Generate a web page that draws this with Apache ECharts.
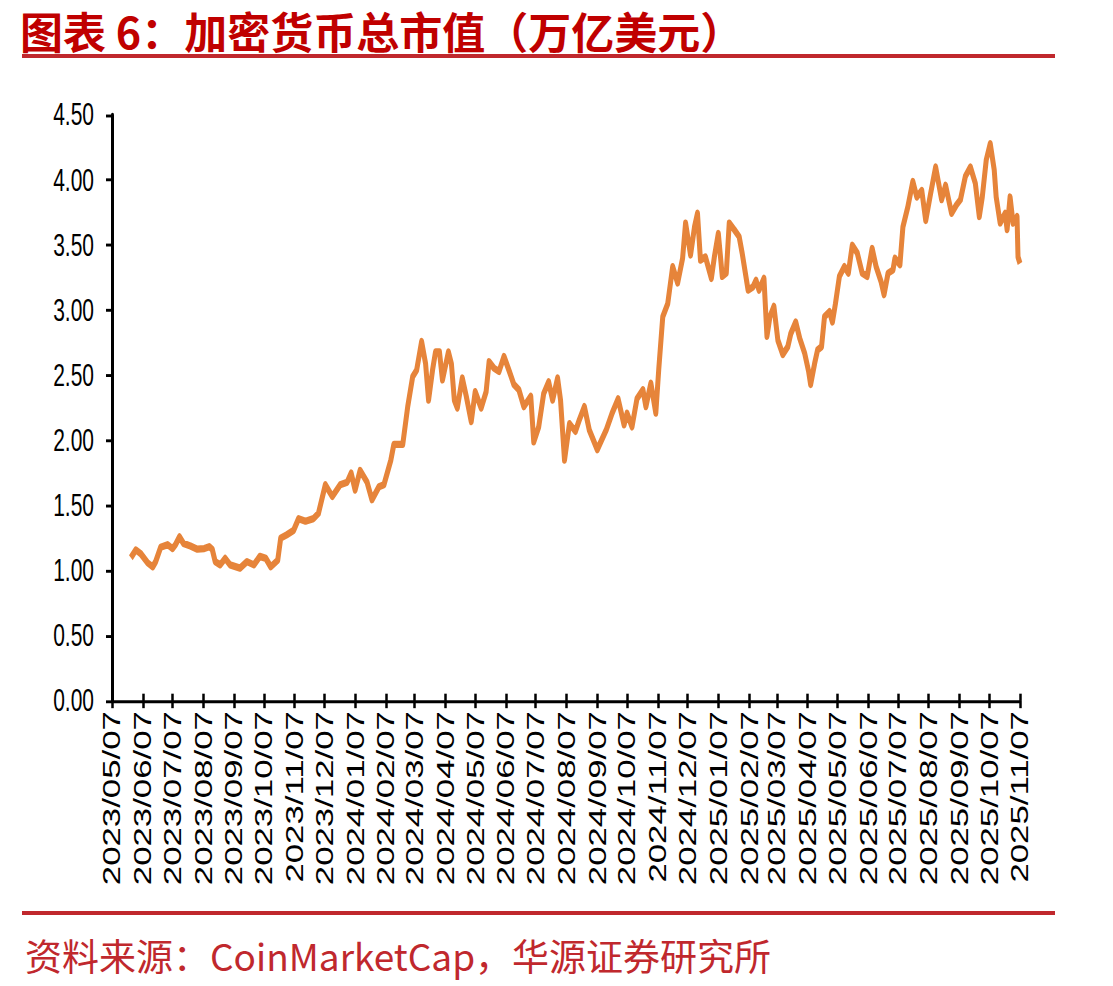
<!DOCTYPE html>
<html>
<head>
<meta charset="utf-8">
<script src="https://cdn.jsdelivr.net/npm/echarts@6/dist/echarts.min.js"></script>
<style>
html,body{margin:0;padding:0;background:#fff;overflow:hidden;}
#frame{position:absolute;left:0;top:0;width:1113px;height:986px;}
#chart{position:absolute;left:0;top:0;width:1113px;height:680px;transform-origin:0 0;transform:scaleY(1.45);}
</style>
</head>
<body>
<div id="frame"></div>
<div id="chart"></div>
<script>
// ---- data ----
const titleText = '图表 6：加密货币总市值（万亿美元）';
const sourceText = '资料来源：CoinMarketCap，华源证券研究所';

const xTickLabels = ['2023/05/07','2023/06/07','2023/07/07','2023/08/07','2023/09/07','2023/10/07','2023/11/07','2023/12/07',
  '2024/01/07','2024/02/07','2024/03/07','2024/04/07','2024/05/07','2024/06/07','2024/07/07','2024/08/07','2024/09/07',
  '2024/10/07','2024/11/07','2024/12/07','2025/01/07','2025/02/07','2025/03/07','2025/04/07','2025/05/07','2025/06/07',
  '2025/07/07','2025/08/07','2025/09/07','2025/10/07','2025/11/07'];

const dates = ['2023-05-26','2023-05-31','2023-06-05','2023-06-12','2023-06-17','2023-06-20','2023-06-25','2023-07-02',
  '2023-07-07','2023-07-10','2023-07-14','2023-07-18','2023-07-25','2023-08-01','2023-08-08','2023-08-13','2023-08-16',
  '2023-08-19','2023-08-24','2023-08-29','2023-09-03','2023-09-13','2023-09-20','2023-09-27','2023-10-03','2023-10-09',
  '2023-10-14','2023-10-21','2023-10-24','2023-10-30','2023-11-06','2023-11-11','2023-11-18','2023-11-26','2023-12-01',
  '2023-12-08','2023-12-15','2023-12-23','2023-12-30','2024-01-03','2024-01-07','2024-01-12','2024-01-19','2024-01-24',
  '2024-01-31','2024-02-05','2024-02-12','2024-02-15','2024-02-24','2024-02-29','2024-03-05','2024-03-09','2024-03-14',
  '2024-03-18','2024-03-21','2024-03-25','2024-03-28','2024-04-01','2024-04-04','2024-04-10','2024-04-13','2024-04-16',
  '2024-04-19','2024-04-24','2024-04-28','2024-05-03','2024-05-07','2024-05-13','2024-05-18','2024-05-21','2024-05-26',
  '2024-05-31','2024-06-05','2024-06-10','2024-06-15','2024-06-20','2024-06-25','2024-07-02','2024-07-05','2024-07-10',
  '2024-07-15','2024-07-20','2024-07-24','2024-07-29','2024-08-01','2024-08-05','2024-08-10','2024-08-16','2024-08-20',
  '2024-08-25','2024-08-30','2024-09-07','2024-09-16','2024-09-22','2024-09-28','2024-10-04','2024-10-07','2024-10-12',
  '2024-10-17','2024-10-23','2024-10-26','2024-10-31','2024-11-05','2024-11-08','2024-11-12','2024-11-17','2024-11-22',
  '2024-11-27','2024-12-02','2024-12-05','2024-12-10','2024-12-14','2024-12-17','2024-12-20','2024-12-25','2024-12-31',
  '2025-01-03','2025-01-07','2025-01-11','2025-01-15','2025-01-18','2025-01-23','2025-01-28','2025-01-31','2025-02-06',
  '2025-02-11','2025-02-14','2025-02-17','2025-02-22','2025-02-25','2025-02-28','2025-03-04','2025-03-08','2025-03-13',
  '2025-03-18','2025-03-21','2025-03-26','2025-03-30','2025-04-04','2025-04-08','2025-04-10','2025-04-14','2025-04-17',
  '2025-04-21','2025-04-24','2025-04-29','2025-05-02','2025-05-05','2025-05-09','2025-05-14','2025-05-18','2025-05-22',
  '2025-05-27','2025-06-01','2025-06-06','2025-06-11','2025-06-15','2025-06-20','2025-06-23','2025-06-27','2025-07-02',
  '2025-07-04','2025-07-09','2025-07-12','2025-07-17','2025-07-22','2025-07-26','2025-07-31','2025-08-04','2025-08-09',
  '2025-08-14','2025-08-20','2025-08-24','2025-08-30','2025-09-04','2025-09-08','2025-09-13','2025-09-18','2025-09-23',
  '2025-09-27','2025-09-30','2025-10-04','2025-10-08','2025-10-12','2025-10-14','2025-10-18','2025-10-23','2025-10-25',
  '2025-10-28','2025-10-31','2025-11-04','2025-11-05','2025-11-07'];

const values = [1.10,1.16,1.13,1.06,1.03,1.07,1.18,1.20,
  1.17,1.20,1.26,1.21,1.19,1.165,1.17,1.185,1.165,
  1.07,1.045,1.095,1.045,1.02,1.07,1.045,1.11,1.095,
  1.03,1.08,1.25,1.275,1.31,1.40,1.38,1.40,1.44,
  1.66,1.57,1.66,1.68,1.75,1.62,1.77,1.68,1.545,
  1.645,1.66,1.85,1.97,1.97,2.26,2.49,2.54,2.76,
  2.59,2.31,2.54,2.68,2.68,2.465,2.68,2.59,2.31,
  2.25,2.48,2.34,2.145,2.375,2.25,2.375,2.605,2.555,
  2.53,2.645,2.54,2.43,2.39,2.26,2.34,1.99,2.105,
  2.36,2.45,2.31,2.48,2.31,1.85,2.13,2.07,2.16,
  2.26,2.08,1.93,2.08,2.21,2.32,2.12,2.21,2.105,
  2.32,2.39,2.26,2.44,2.21,2.55,2.95,3.05,3.335,
  3.21,3.40,3.67,3.425,3.64,3.745,3.385,3.41,3.245,
  3.41,3.59,3.26,3.285,3.67,3.62,3.565,3.44,3.155,
  3.18,3.23,3.155,3.245,2.80,2.95,3.03,2.77,2.66,
  2.72,2.82,2.91,2.785,2.67,2.53,2.43,2.59,2.695,
  2.72,2.95,2.99,2.91,3.05,3.26,3.335,3.285,3.50,
  3.44,3.285,3.26,3.475,3.335,3.22,3.12,3.285,3.31,
  3.40,3.35,3.64,3.795,3.99,3.87,3.92,3.69,3.90,
  4.10,3.85,3.96,3.745,3.81,3.85,4.03,4.10,3.975,
  3.72,3.87,4.155,4.28,4.08,3.87,3.67,3.745,3.62,
  3.87,3.67,3.72,3.41,3.36];

// ---- helpers ----
const S = 1.45; // vertical stretch of the reference plot
function toTs(s){ const p = s.split(/[-\/]/).map(Number); return new Date(p[0], p[1]-1, p[2]).getTime(); }
function pad(n){ return (n<10?'0':'')+n; }
function fmt(ts){ const d = new Date(ts); return d.getFullYear()+'/'+pad(d.getMonth()+1)+'/'+pad(d.getDate()); }

const tickTs = xTickLabels.map(toTs);
const seriesData = dates.map((d,i)=>[toTs(d), values[i]]);
const xMin = tickTs[0], xMax = tickTs[tickTs.length-1];

// frame: title, red rules, source (not stretched)
const frame = echarts.init(document.getElementById('frame'), null, {renderer:'svg', width:1113, height:986});
frame.setOption({
  animation:false,
  backgroundColor:'#fff',
  title:{
    text:titleText, left:15, top:3,
    textStyle:{color:'#C00000', fontSize:43, fontWeight:'bold', fontFamily:'Noto Sans CJK SC, sans-serif', lineHeight:44}
  },
  graphic:[
    {type:'rect', shape:{x:22, y:54, width:1033, height:4}, style:{fill:'#C0282D'}},
    {type:'rect', shape:{x:22, y:911, width:1033, height:4}, style:{fill:'#C0282D'}},
    {type:'text', x:25, y:955,
     style:{text:sourceText, fill:'#C0282D', fontSize:37,
       fontFamily:'Noto Sans CJK SC, sans-serif', textVerticalAlign:'middle', textAlign:'left'}}
  ]
});

// plot (the reference plot is stretched vertically by S)
const chart = echarts.init(document.getElementById('chart'), null, {renderer:'svg', width:1113, height:680});
chart.setOption({
  animation:false,
  grid:{left:112, right:93, top:79.3, height:404.1, containLabel:false},
  xAxis:[{
    type:'value', min:xMin, max:xMax, position:'bottom', scale:true,
    splitLine:{show:false},
    axisLine:{show:true, lineStyle:{color:'#000', width:2}},
    axisTick:{show:true, inside:false, length:5, lineStyle:{color:'#000', width:2.5}, customValues:tickTs},
    axisLabel:{show:true, rotate:90, margin:7, color:'#000', fontSize:24, fontFamily:'Liberation Sans, Arial, sans-serif',
      customValues:tickTs, hideOverlap:false, showMinLabel:true, showMaxLabel:true, formatter:function(v){ return fmt(v); }}
  },{
    type:'value', min:xMin, max:xMax, position:'bottom', scale:true,
    splitLine:{show:false},
    axisLine:{show:false},
    axisTick:{show:true, inside:true, length:5, lineStyle:{color:'#000', width:2.5}, customValues:tickTs},
    axisLabel:{show:false}
  }],
  yAxis:{
    type:'value', min:0, max:4.5, interval:0.5,
    splitLine:{show:false},
    axisLine:{show:true, lineStyle:{color:'#000', width:3}},
    axisTick:{show:true, inside:false, length:6, lineStyle:{color:'#000', width:2}},
    axisLabel:{color:'#000', fontSize:21, margin:18, fontFamily:'Liberation Sans, Arial, sans-serif',
      formatter:function(v){ return v.toFixed(2); }}
  },
  series:[{
    type:'line', xAxisIndex:0, data:seriesData, showSymbol:false, smooth:false,
    lineStyle:{color:'#E6843A', width:5, join:'round'},
    itemStyle:{color:'#E6843A'}
  }]
});
</script>
</body>
</html>
